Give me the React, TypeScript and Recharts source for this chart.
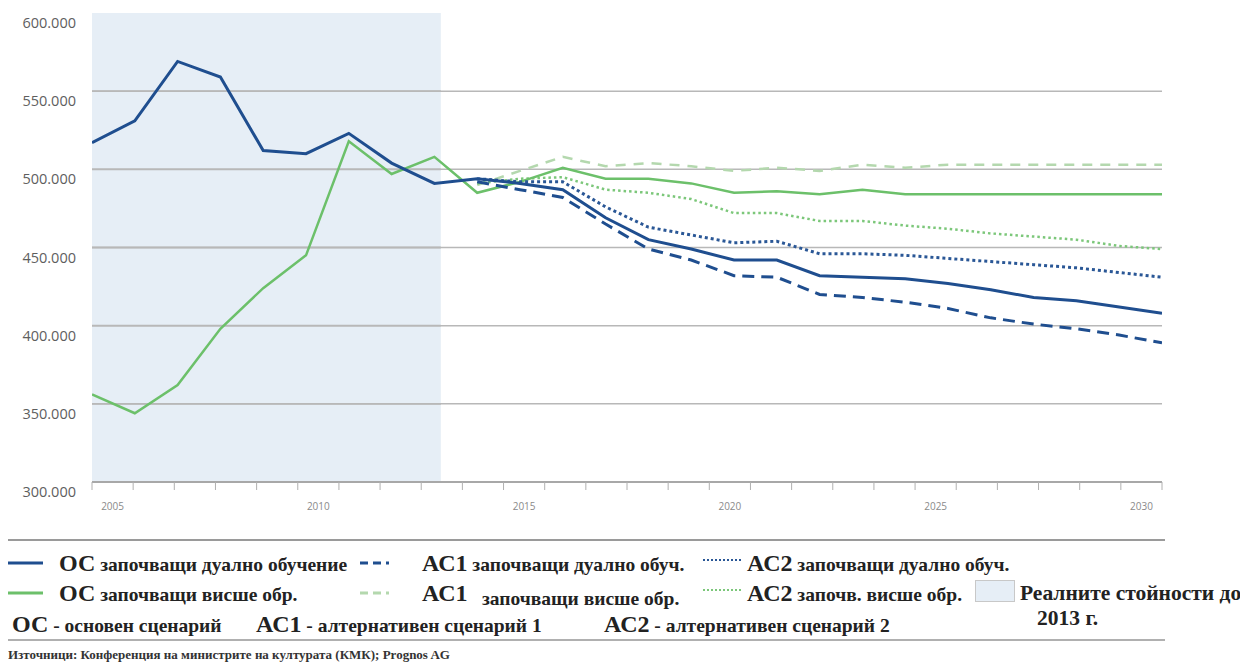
import React from 'react'
import { LineChart, Line, XAxis, YAxis, ReferenceLine, ReferenceArea } from 'recharts'

// years on the chart; forecast scenarios start in 2014
const YEARS = [
  2005, 2006, 2007, 2008, 2009, 2010, 2011, 2012, 2013, 2014, 2015, 2016, 2017,
  2018, 2019, 2020, 2021, 2022, 2023, 2024, 2025, 2026, 2027, 2028, 2029, 2030,
]
const FORECAST_START = 2014

// values in thousands
const OC_DUAL = [
  517, 531, 569, 559, 512, 510, 523, 504, 491, 494, 491, 487, 469, 455, 449, 442,
  442, 432, 431, 430, 427, 423, 418, 416, 412, 408,
]
const OC_HIGHER = [
  356, 344, 362, 398, 424, 445, 518, 497, 508, 485, 492, 501, 494, 494, 491, 485,
  486, 484, 487, 484, 484, 484, 484, 484, 484, 484,
]
// 2014 .. 2030
const AC1_DUAL = [492, 487, 482, 465, 449, 442, 432, 431, 420, 418, 415, 411, 405, 401, 398, 394, 389]
const AC2_DUAL = [494, 492, 492, 476, 463, 458, 453, 454, 446, 446, 445, 443, 441, 439, 437, 434, 431]
const AC1_HIGHER = [490, 499, 508, 502, 504, 502, 499, 501, 499, 503, 501, 503, 503, 503, 503, 503, 503]
const AC2_HIGHER = [491, 494, 495, 487, 485, 481, 472, 472, 467, 467, 464, 462, 459, 457, 455, 451, 449]

const Y_MIN = 300
const Y_MAX = 600
const Y_TICKS = [300, 350, 400, 450, 500, 550, 600]
const GRID_VALUES = [350, 400, 450, 500, 550]
const BAND_EDGES = [...YEARS, 2031]
const X_LABELS = [2005, 2010, 2015, 2020, 2025, 2030]
const REAL_FROM = 2005
const REAL_UNTIL = 2013.15

const data = YEARS.map((year, i) => {
  const k = year - FORECAST_START
  return {
    year,
    ocDual: OC_DUAL[i],
    ocHigher: OC_HIGHER[i],
    ac1Dual: k >= 0 ? AC1_DUAL[k] : null,
    ac2Dual: k >= 0 ? AC2_DUAL[k] : null,
    ac1Higher: k >= 0 ? AC1_HIGHER[k] : null,
    ac2Higher: k >= 0 ? AC2_HIGHER[k] : null,
  }
})

const NAVY = '#1f4e8f'
const GREEN = '#6cc06a'
const PALE_GREEN = '#b4d8ae'
const DOT_GREEN = '#7cc77a'
const SHADE = '#e6eef6'
const GRID = '#b8b8b8'
const SERIF = '"Liberation Serif", "Times New Roman", serif'
const SANS = '"Open Sans", "DejaVu Sans", sans-serif'

const PLOT_LEFT = 92
const PLOT_RIGHT = 1162
const BAND_W = (PLOT_RIGHT - PLOT_LEFT) / (BAND_EDGES.length - 1)

function YTick({ y, payload }: any) {
  return (
    <text x={76} y={y + 15} textAnchor="end" fontSize={14.5} fill="#5e5e5e" fontFamily={SANS}>
      {payload.value}.000
    </text>
  )
}

function BandTick({ x, y, payload }: any) {
  if (!X_LABELS.includes(payload.value)) return <g />
  return (
    <text x={x + BAND_W / 2} y={y + 20} textAnchor="middle" fontSize={10} fill="#8a8a8a" fontFamily={SANS}>
      {payload.value}
    </text>
  )
}

// shaded "real values" block; it repeats the grid lines so they stay visible on top of it
function ShadeWithGrid({ x, y, width, height }: any) {
  return (
    <g>
      <rect x={x} y={y} width={width} height={height} fill={SHADE} />
      {GRID_VALUES.map((v) => {
        const gy = y + (height * (Y_MAX - v)) / (Y_MAX - Y_MIN)
        return <line key={v} x1={x} x2={x + width} y1={gy} y2={gy} stroke={GRID} strokeWidth={1.8} />
      })}
    </g>
  )
}

function Sample({ left, top, width, color, dash, w }: any) {
  return (
    <svg style={{ position: 'absolute', left, top: top - 3 }} width={width} height={6}>
      <line x1={0} y1={3} x2={width} y2={3} stroke={color} strokeWidth={w} strokeDasharray={dash} />
    </svg>
  )
}

function Txt({ left, top, children, size = 19.5 }: any) {
  return (
    <div
      style={{
        position: 'absolute',
        left,
        top: top - 15,
        height: 30,
        lineHeight: '30px',
        whiteSpace: 'nowrap',
        fontFamily: SERIF,
        fontWeight: 'bold',
        fontSize: size,
        color: '#222',
      }}
    >
      {children}
    </div>
  )
}

const Big = ({ children }: any) => <span style={{ fontSize: 24 }}>{children}</span>

export default function App() {
  const r1 = 563
  const r2 = 593
  const r3 = 624
  return (
    <div style={{ position: 'relative', width: 1248, height: 671, margin: -8, background: '#fff', overflow: 'hidden' }}>
      <LineChart width={1248} height={520} data={data} margin={{ top: 13, right: 1248 - PLOT_RIGHT, bottom: 8, left: 0 }}>
        <XAxis dataKey="year" xAxisId="data" type="number" domain={[2005, 2030]} allowDataOverflow hide />
        <XAxis
          dataKey="year"
          xAxisId="bands"
          type="number"
          domain={[2005, 2031]}
          allowDataOverflow
          ticks={BAND_EDGES}
          interval={0}
          height={30}
          tickSize={8}
          tickMargin={0}
          axisLine={{ stroke: '#a8a8a8', strokeWidth: 2 }}
          tickLine={{ stroke: '#b0b0b0' }}
          tick={<BandTick />}
        />
        <YAxis
          width={PLOT_LEFT}
          domain={[Y_MIN, Y_MAX]}
          ticks={Y_TICKS}
          interval={0}
          axisLine={false}
          tickLine={false}
          tick={<YTick />}
        />
        {GRID_VALUES.map((v) => (
          <ReferenceLine key={v} xAxisId="data" y={v} stroke={GRID} strokeWidth={1.5} />
        ))}
        <ReferenceArea
          xAxisId="data"
          x1={REAL_FROM}
          x2={REAL_UNTIL}
          y1={Y_MIN}
          y2={Y_MAX}
          fillOpacity={1}
          shape={<ShadeWithGrid />}
        />
        <Line xAxisId="data" dataKey="ac1Higher" stroke={PALE_GREEN} strokeWidth={2.5} strokeDasharray="10 8" dot={false} isAnimationActive={false} />
        <Line xAxisId="data" dataKey="ac2Higher" stroke={DOT_GREEN} strokeWidth={2.5} strokeDasharray="2.5 3" dot={false} isAnimationActive={false} />
        <Line xAxisId="data" dataKey="ocHigher" stroke={GREEN} strokeWidth={2.5} dot={false} isAnimationActive={false} />
        <Line xAxisId="data" dataKey="ac2Dual" stroke="#2a5796" strokeWidth={3} strokeDasharray="3 3" dot={false} isAnimationActive={false} />
        <Line xAxisId="data" dataKey="ac1Dual" stroke={NAVY} strokeWidth={3} strokeDasharray="12 7" dot={false} isAnimationActive={false} />
        <Line xAxisId="data" dataKey="ocDual" stroke={NAVY} strokeWidth={3} dot={false} isAnimationActive={false} />
      </LineChart>

      {/* legend */}
      <div style={{ position: 'absolute', left: 8, top: 539, width: 1157, height: 2, background: '#9a9a9a' }} />

      <Sample left={8} top={r1} width={35} color={NAVY} w={3} />
      <Txt left={59} top={r1}><Big>ОС</Big> започващи дуално обучение</Txt>
      <Sample left={360} top={r1} width={32} color={NAVY} w={3} dash="8 5 8 5 3 5" />
      <Txt left={422} top={r1}><Big>АС1</Big> започващи дуално обуч.</Txt>
      <Sample left={703} top={r1 - 3} width={40} color="#2a5796" w={2} dash="2 2" />
      <Txt left={747} top={r1}><Big>АС2</Big> започващи дуално обуч.</Txt>

      <Sample left={8} top={r2} width={35} color={GREEN} w={3} />
      <Txt left={59} top={r2}><Big>ОС</Big> започващи висше обр.</Txt>
      <Sample left={360} top={r2} width={32} color={PALE_GREEN} w={3} dash="8 5 8 5 3 5" />
      <Txt left={422} top={r2}><Big>АС1</Big></Txt>
      <Txt left={482} top={r2 + 6}>започващи висше обр.</Txt>
      <Sample left={703} top={r2 - 3} width={40} color={DOT_GREEN} w={2} dash="2 2" />
      <Txt left={747} top={r2}><Big>АС2</Big> започв. висше обр.</Txt>
      <div style={{ position: 'absolute', left: 975, top: 580, width: 38, height: 20, background: SHADE, border: '1px solid #c8c8c8' }} />
      <Txt left={1020} top={r2} size={21.5}>Реалните стойности до</Txt>
      <Txt left={1037} top={r2 + 25} size={21.5}>2013 г.</Txt>

      <Txt left={12} top={r3}><Big>ОС</Big> - основен сценарий</Txt>
      <Txt left={256} top={r3}><Big>АС1</Big> - алтернативен сценарий 1</Txt>
      <Txt left={604} top={r3}><Big>АС2</Big> - алтернативен сценарий 2</Txt>
      <div style={{ position: 'absolute', left: 8, top: 639, width: 1157, height: 2, background: '#b0b0b0' }} />

      <div style={{ position: 'absolute', left: 8, top: 647, fontFamily: SERIF, fontWeight: 'bold', fontSize: 13, color: '#333', whiteSpace: 'nowrap' }}>
        Източници: Конференция на министрите на културата (КМК); Prognos AG
      </div>
    </div>
  )
}
